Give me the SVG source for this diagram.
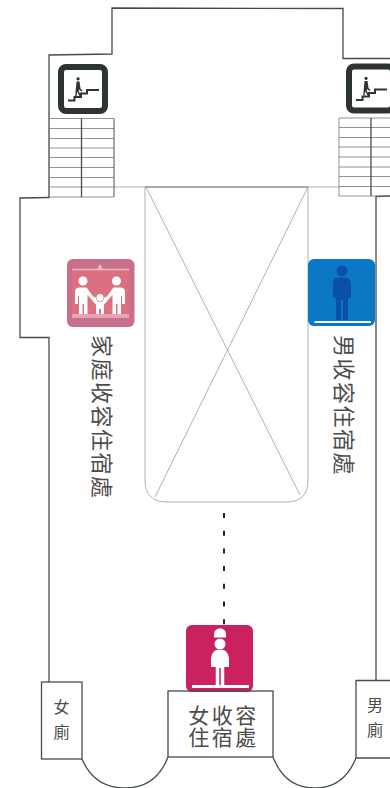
<svg xmlns="http://www.w3.org/2000/svg" width="390" height="788" viewBox="0 0 390 788">
<style>
.wall{fill:none;stroke:#454d4b;stroke-width:1.300}
.thin{fill:none;stroke:#9a9c9c;stroke-width:.8}
.step{fill:none;stroke:#777;stroke-width:.8}
.t{font-family:"Noto Sans CJK TC","Noto Sans CJK SC",sans-serif;fill:#4c4c4c}
.w{fill:#fff}
.k{fill:#2e3432}
</style>
<defs>
<g id="stair">
<rect x="3" y="3" width="44" height="44" rx="5" fill="#fff" stroke="#2e3432" stroke-width="6"/>
<path class="k" d="M20 16.500a1.600 1.600 0 1 1 .1 0zM18.500 17.500h3l1 7 2 2-1 1-2.500-2-.3 1.500 2.300 5h-1.500l-2.500-4.500-.3 4.500h-1.500z"/>
<path d="M10 36.500H16.500V33H23V29.500H29V26H41" fill="none" stroke="#2e3432" stroke-width="2"/>
</g>
</defs>
<rect width="390" height="788" fill="#fff"/>
<g id="walls">
<path class="wall" d="M49 198V55L112 54V8L343 8.500V58.500H390"/>
<path class="wall" d="M49 197.500L20 198V337.500H49V682"/>
<path class="wall" d="M390 196L376 196.500V680"/>
<path class="thin" d="M114 187H145M308 187H339"/>
</g>
<g id="stairs-left">
<path class="step" d="M49 118.500H114V197H49M49 128.500H114M49 138.500H114M49 148H114M49 157.500H114M49 167.500H114M49 177.500H114M49 187H114M114 118.500V197"/>
<path class="wall" d="M81.500 118.500V197"/>
</g>
<g id="stairs-right">
<path class="step" d="M390 118H339V196H390M339 127.500H390M339 137.500H390M339 147H390M339 157H390M339 167H390M339 176.500H390M339 186.500H390"/>
<path class="wall" d="M371 118V196"/>
</g>
<g id="stair-sign-left"><use href="#stair" x="58" y="64"/></g>
<g id="stair-sign-right"><use href="#stair" x="346" y="63.500"/></g>
<g id="atrium">
<path class="thin" d="M145 187V480Q145 502 167 502H286Q308 502 308 480V187"/>
<path d="M145 187H308" fill="none" stroke="#555" stroke-width="1"/>
<path class="thin" d="M146 187L300 495M308 187L155 497"/>
</g>
<g id="connectors">
<path d="M224 513V625" fill="none" stroke="#222" stroke-width="2" stroke-dasharray="5 12.700"/>
</g>
<g id="family">
<rect x="67" y="259" width="67.500" height="68" rx="6" fill="#c8708a"/>
<rect x="72" y="269" width="57" height="48" fill="#dd7080"/>
<path d="M72 269.500H129M72 317H129M72 315H129" stroke="#e8b8c4" stroke-width="1.500"/>
<path d="M97 269L100 264L103 269z" fill="#e8b8c4"/>
<g class="w">
<circle cx="83" cy="281" r="4.500"/><circle cx="116.500" cy="281" r="4.500"/><circle cx="100" cy="297.500" r="3.500"/>
<path d="M75 304V292Q75 287.500 79.500 287.500H86.500L96.500 301L95 303.500L87.500 295V314H84V304H82.500V314H79V296H78V304z"/>
<path d="M125 304V292Q125 287.500 120.500 287.500H113.500L103.500 301L105 303.500L112.500 295V314H116V304H117.500V314H121V296H122V304z"/>
<path d="M92.500 298L95 296.500L97.500 301.500H102.500L105 296.500L107.500 298L104 305V314H101V309H99V314H96V305z"/>
</g>
</g>
<g id="male">
<rect x="308" y="259" width="67" height="67" rx="6" fill="#0b78c6"/>
<path d="M342 276.500a5.500 5.500 0 1 1 .1 0zM337 277.500H347Q351 279 351 284V298H348V320H343V300H341V320H336V298H333V284Q333 279 337 277.500z" fill="#0a4fa8"/>
<path class="w" d="M314.500 321H371V323H314.500z"/>
</g>
<g id="female">
<rect x="186" y="625" width="67" height="67" rx="6" fill="#ca2160"/>
<path class="w" d="M214 637.500V634a6 5.800 0 0 1 12 0V637.500z"/>
<circle class="w" cx="220" cy="644" r="5.500"/>
<path class="w" d="M216 650H224Q228 652 229 658V667H224.500V685H215.500V667H211V658Q212 652 216 650z"/>
<path d="M220 668V685" stroke="#ca2160" stroke-width="1.500"/>
<path d="M213.500 667H215.500V685H213.500zM224.500 667H226.500V685H224.500z" fill="#ca2160"/>
<rect class="w" x="192" y="685" width="57" height="3"/>
</g>
<g id="womens-toilet">
<rect class="wall" x="41.500" y="682" width="40.500" height="77"/>
<text class="t" x="61.500" y="713" font-size="16" text-anchor="middle">女</text>
<text class="t" x="61.500" y="738" font-size="16" text-anchor="middle">廁</text>
</g>
<g id="womens-dorm">
<rect class="wall" x="168" y="691" width="105" height="66"/>
<text class="t" x="223.500" y="723" font-size="21" letter-spacing="2.500" text-anchor="middle">女收容</text>
<text class="t" x="223.500" y="744.500" font-size="21" letter-spacing="2.500" text-anchor="middle">住宿處</text>
</g>
<g id="mens-toilet">
<path class="wall" d="M390 680.500H356V758H390"/>
<text class="t" x="375" y="711" font-size="16" text-anchor="middle">男</text>
<text class="t" x="375" y="736" font-size="16" text-anchor="middle">廁</text>
</g>
<g id="bays">
<path class="wall" d="M82 759C90 778 105 788 125 788S160 778 168 757"/>
<path class="wall" d="M273 757C281 778 295 788 315 788S348 778 356 758"/>
</g>
<g id="family-label">
<text class="t" font-size="22" letter-spacing="1.500" transform="translate(94 335) rotate(90)">家庭收容住宿處</text>
</g>
<g id="male-label">
<text class="t" font-size="22" letter-spacing="1.500" transform="translate(336 335) rotate(90)">男收容住宿處</text>
</g>
</svg>
